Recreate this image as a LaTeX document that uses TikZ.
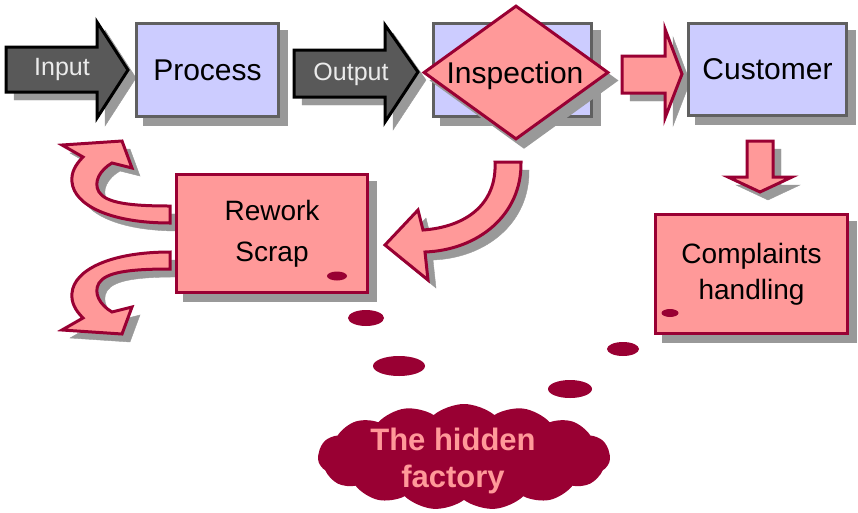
\documentclass[tikz,border=0pt]{standalone}
\usepackage{fontspec}
\setmainfont{Liberation Sans}
\usetikzlibrary{shapes.geometric,shapes.symbols}
\definecolor{lav}{HTML}{CCCCFF}
\definecolor{boxgrey}{HTML}{606060}
\definecolor{shadowc}{HTML}{999999}
\definecolor{pinkc}{HTML}{FF9999}
\definecolor{maroonc}{HTML}{990033}
\definecolor{darkarr}{HTML}{595959}
\definecolor{lighttxt}{HTML}{EBEBEB}
\tikzset{
  shad/.style={preaction={draw=shadowc, fill=shadowc, transform canvas={shift={(8pt,-8pt)}}}},
  bluebox/.style={shad, rectangle, draw=boxgrey, fill=lav, line width=3pt, inner sep=0pt,
    font=\fontsize{30}{34}\selectfont},
  pinkbox/.style={shad, rectangle, draw=maroonc, fill=pinkc, line width=3pt, inner sep=0pt,
    align=center},
  darkarrow/.style={shad, draw=black, fill=darkarr, line width=3pt, line join=miter},
  pinkarrow/.style={shad, draw=maroonc, fill=pinkc, line width=3pt, line join=miter},
  arrtxt/.style={text=lighttxt, font=\fontsize{25}{28}\selectfont, anchor=base, inner sep=0pt},
  dot/.style={fill=maroonc, draw=none}
}
\begin{document}
\begin{tikzpicture}[x=1pt,y=-1pt]
\useasboundingbox (0,0) rectangle (858,512);

% Input arrow
\draw[darkarrow] (6,47) -- (97,47) -- (97,22) -- (128,70) -- (97,118) -- (97,92) -- (6,92) -- cycle;
\node[arrtxt] (tin) at (62,75) {Input};

% Process
\node[bluebox, minimum width=142pt, minimum height=93pt] (process) at (207.5,70) {Process};

% Output arrow
\draw[darkarrow] (294,50) -- (385,50) -- (385,25) -- (418,72) -- (385,122) -- (385,97) -- (294,97) -- cycle;
\node[arrtxt] (tout) at (351,80) {Output};

% Inspection box and diamond
\node[bluebox, minimum width=158pt, minimum height=93pt] (inspbox) at (512.5,70) {};
\node[shad, diamond, draw=maroonc, fill=pinkc, line width=3pt, inner sep=0pt, aspect=1.38,
      minimum width=185pt, minimum height=134pt, font=\fontsize{30}{34}\selectfont] (insp) at (516,72.5) {};
\node[font=\fontsize{30}{34}\selectfont, anchor=base, inner sep=0pt] (insptxt) at (515,83) {Inspection};

% Arrow to customer
\draw[pinkarrow] (622,56) -- (665,56) -- (665,29) -- (682,74) -- (665,118) -- (665,93) -- (622,93) -- cycle;

% Customer
\node[bluebox, minimum width=158pt, minimum height=92pt] (customer) at (767.5,69.5) {Customer};

% Down arrow
\draw[pinkarrow] (747,141) -- (773,141) -- (773,177) -- (792,177) -- (760,192) -- (728,177) -- (747,177) -- cycle;

% Curved arrow from inspection
\draw[pinkarrow] (495,162) .. controls (497,205) and (465,227) .. (423,230) -- (418,210) -- (385,245) -- (428,280) -- (425,252) .. controls (478,250) and (522,215) .. (521,162) -- cycle;

% Curved arrows on the left
\draw[pinkarrow] (170,206) .. controls (130,206) and (106,203) .. (99,192) .. controls (93,182) and (100,170) .. (112,163) -- (132,168) -- (122,141) -- (62,145) -- (83,157) .. controls (75,165) and (71,173) .. (72,182) .. controls (74,205) and (110,223) .. (170,223) -- cycle;
\draw[pinkarrow] (170,269) .. controls (130,269) and (106,272) .. (99,283) .. controls (93,293) and (100,305) .. (112,312) -- (132,307) -- (122,334) -- (62,330) -- (83,318) .. controls (75,310) and (71,302) .. (72,293) .. controls (74,270) and (110,252) .. (170,252) -- cycle;

% Rework box
\node[pinkbox, minimum width=191pt, minimum height=118pt, font=\fontsize{28}{41}\selectfont] (rework) at (272,233.5) {Rework\\Scrap};
\fill[dot] (337,276) ellipse [x radius=10pt, y radius=4.5pt];

% Complaints box
\node[pinkbox, minimum width=192pt, minimum height=119pt, font=\fontsize{28}{36}\selectfont] (complaints) at (751.5,274) {Complaints\\handling};
\fill[dot] (670,313) ellipse [x radius=8.5pt, y radius=4pt];

% Trail of dots
\fill[dot] (366,318) ellipse [x radius=18pt, y radius=8pt];
\fill[dot] (399,366) ellipse [x radius=26pt, y radius=10pt];
\fill[dot] (570,389) ellipse [x radius=22pt, y radius=9pt];
\fill[dot] (623,349) ellipse [x radius=16pt, y radius=7pt];

% Cloud
\node[cloud, fill=maroonc, draw=none, minimum width=292pt, minimum height=106pt,
      cloud puffs=15, cloud puff arc=80, aspect=2.8, inner sep=0pt] (cloud) at (464,457) {};
\node[text=pinkc, font=\bfseries\fontsize{31}{37}\selectfont, align=center, inner sep=0pt] (cloudtxt) at (453,461) {The hidden\\factory};
\end{tikzpicture}
\end{document}
